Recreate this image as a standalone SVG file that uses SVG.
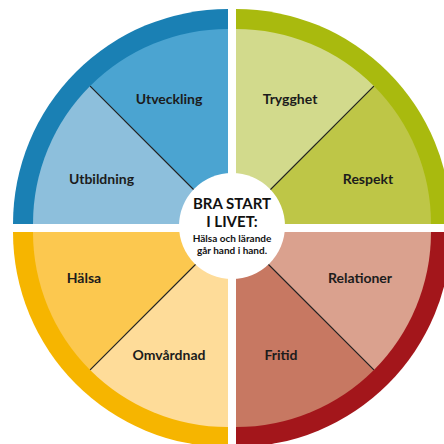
<svg xmlns="http://www.w3.org/2000/svg" width="444" height="444" viewBox="0 0 444 444">
<style>
.lbl{font-family:Lato,"Open Sans","Liberation Sans",sans-serif;font-weight:bold;font-size:14px;fill:#1c1c1c;text-anchor:middle}
.ctr{font-family:Lato,"Open Sans","Liberation Sans",sans-serif;font-weight:bold;fill:#111;text-anchor:middle}
.div{stroke:#222;stroke-width:1.2;fill:none}
</style>
<rect width="444" height="444" fill="#fff"/>
<g id="quadrant-blue">
<path d="M228 224 L13 224 A215 215 0 0 1 228 9 Z" fill="#1a80b4"/>
<g id="utbildning"><path d="M228 224 L33 224 A195 195 0 0 1 90.11 86.11 Z" fill="#8dbfdc"/><text class="lbl" x="101.5" y="184">Utbildning</text></g>
<g id="utveckling"><path d="M228 224 L90.11 86.11 A195 195 0 0 1 228 29 Z" fill="#4ba4d1"/><text class="lbl" x="169" y="104">Utveckling</text></g>
</g>
<g id="quadrant-green">
<path d="M236 224 L236 9 A215 215 0 0 1 451 224 Z" fill="#a9ba0e"/>
<g id="trygghet"><path d="M236 224 L236 29 A195 195 0 0 1 373.89 86.11 Z" fill="#d2da8c"/><text class="lbl" x="290" y="104">Trygghet</text></g>
<g id="respekt"><path d="M236 224 L373.89 86.11 A195 195 0 0 1 431 224 Z" fill="#bec647"/><text class="lbl" x="368" y="184">Respekt</text></g>
</g>
<g id="quadrant-yellow">
<path d="M228 232 L13 232 A215 215 0 0 0 228 447 Z" fill="#f6b500"/>
<g id="halsa"><path d="M228 232 L33 232 A195 195 0 0 0 90.11 369.89 Z" fill="#fcc84f"/><text class="lbl" x="84" y="283">Hälsa</text></g>
<g id="omvardnad"><path d="M228 232 L90.11 369.89 A195 195 0 0 0 228 427 Z" fill="#fedc99"/><text class="lbl" x="169" y="360">Omvårdnad</text></g>
</g>
<g id="quadrant-red">
<path d="M236 232 L451 232 A215 215 0 0 1 236 447 Z" fill="#a3161b"/>
<g id="relationer"><path d="M236 232 L431 232 A195 195 0 0 1 373.89 369.89 Z" fill="#daa18e"/><text class="lbl" x="360" y="283">Relationer</text></g>
<g id="fritid"><path d="M236 232 L373.89 369.89 A195 195 0 0 1 236 427 Z" fill="#c77862"/><text class="lbl" x="281" y="360">Fritid</text></g>
</g>
<g id="dividers">
<line class="div" x1="228" y1="224" x2="90.11" y2="86.11"/>
<line class="div" x1="236" y1="224" x2="373.89" y2="86.11"/>
<line class="div" x1="228" y1="232" x2="90.11" y2="369.89"/>
<line class="div" x1="236" y1="232" x2="373.89" y2="369.89"/>
</g>
<g id="center">
<circle cx="232" cy="226" r="53" fill="#fff"/>
<text class="ctr" x="232" y="209" font-size="15">BRA START</text>
<text class="ctr" x="232" y="227" font-size="15">I LIVET:</text>
<text class="ctr" x="232" y="242" font-size="10">Hälsa och lärande</text>
<text class="ctr" x="232" y="254" font-size="10">går hand i hand.</text>
</g>
</svg>
